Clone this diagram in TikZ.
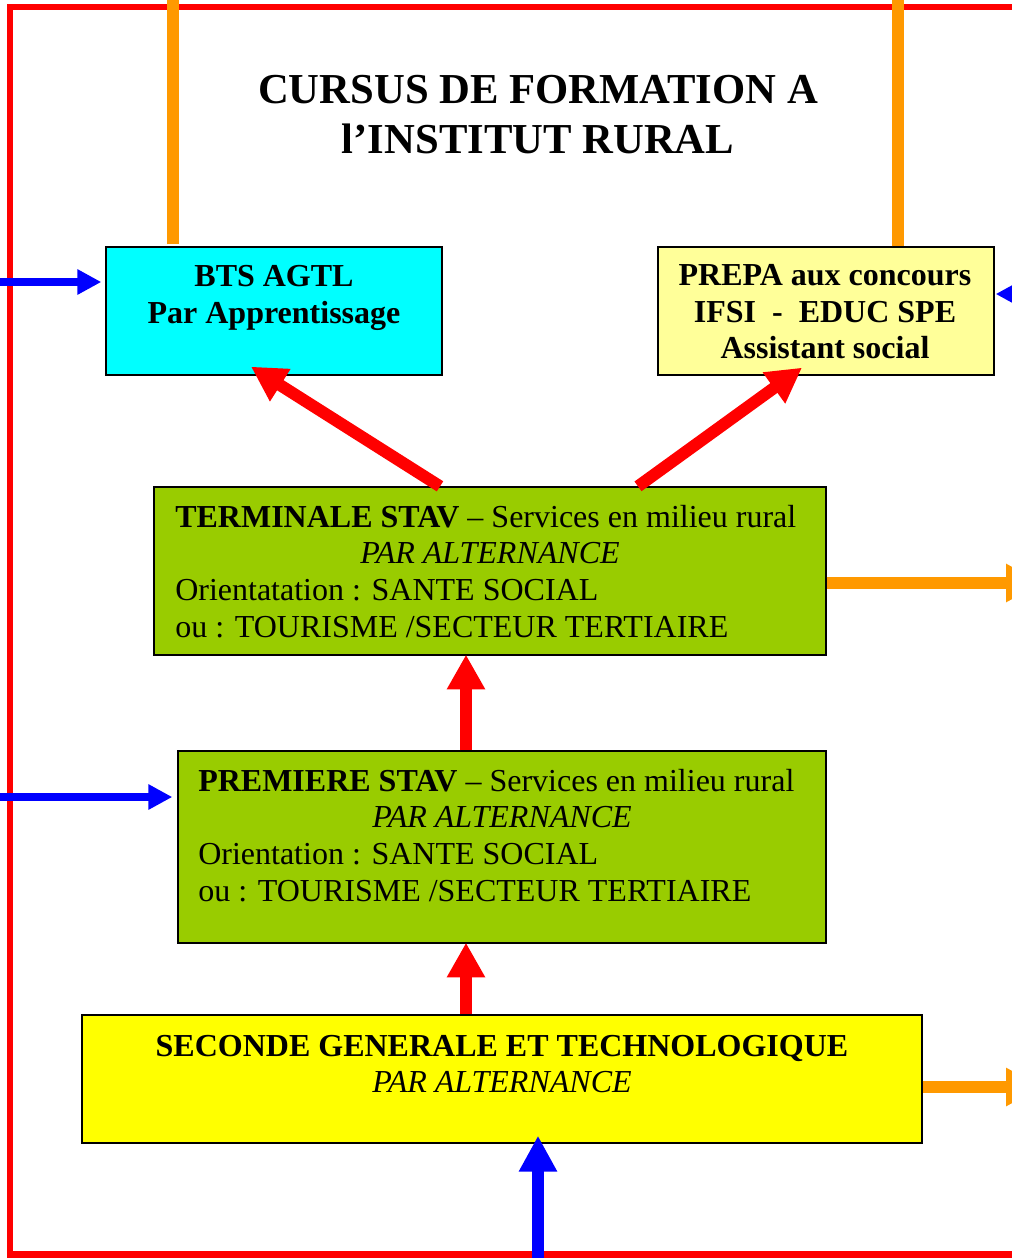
\documentclass[tikz,border=0pt]{standalone}
\usepackage{fontspec}
\setmainfont{Liberation Serif}
\usetikzlibrary{arrows.meta,calc}
\definecolor{frRed}{HTML}{FF0000}
\definecolor{frBlue}{HTML}{0000FF}
\definecolor{frOrange}{HTML}{FF9900}
\definecolor{boxCyan}{HTML}{00FFFF}
\definecolor{boxPale}{HTML}{FFFF99}
\definecolor{boxGreen}{HTML}{99CC00}
\definecolor{boxYellow}{HTML}{FFFF00}
\begin{document}
\begin{tikzpicture}[x=0.75pt,y=-0.75pt,
  box/.style={draw=black,line width=1pt,rectangle,inner sep=0pt},
  txt/.style={inner sep=0pt,font=\fontsize{24}{28}\selectfont},
  txtb/.style={inner sep=0pt,font=\fontsize{24}{28}\selectfont\bfseries},
  ttl/.style={inner sep=0pt,font=\fontsize{32}{37}\selectfont\bfseries},
  redarr/.style={draw=frRed,line width=9pt,-{Triangle[length=26pt,width=27pt]}},
  bluearr/.style={draw=frBlue,line width=6.4pt,-{Triangle[length=18pt,width=18pt]}},
  bluebig/.style={draw=frBlue,line width=9pt,-{Triangle[length=27pt,width=27pt]}},
  orangeline/.style={draw=frOrange,line width=8.6pt},
  orangearr/.style={draw=frOrange,line width=9pt,-{Triangle[length=27pt,width=27pt]}},
  frame/.style={draw=frRed,line width=5pt}
]
\useasboundingbox (0,0) rectangle (1012,1258);
\clip (0,0) rectangle (1012,1258);

% red frame
\draw[frame] (10,1275) -- (10,7) -- (1030,7);
\draw[frame] (7,1254.5) -- (1030,1254.5);

% boxes
\node[box,fill=boxCyan,minimum width=252pt,minimum height=96pt] (bts) at (274,311) {};
\node[box,fill=boxPale,minimum width=252pt,minimum height=96pt] (prepa) at (826,311) {};
\node[box,fill=boxGreen,minimum width=504pt,minimum height=126pt] (term) at (490,571) {};
\node[box,fill=boxGreen,minimum width=486pt,minimum height=144pt] (prem) at (502,847) {};
\node[box,fill=boxYellow,minimum width=630pt,minimum height=96pt] (sec) at (502,1079) {};

% title
\node[ttl,anchor=base] (title1) at (538,103) {CURSUS DE FORMATION A};
\node[ttl,anchor=base] (title2) at (538,153) {l’INSTITUT RURAL};

% BTS
\node[txtb,anchor=base] (bts1) at (274,286) {BTS AGTL};
\node[txtb,anchor=base] (bts2) at (274,323) {Par Apprentissage};

% PREPA
\node[txtb,anchor=base] (pre1) at (825,285) {PREPA aux concours};
\node[txtb,anchor=base] (pre2) at (825,322) {IFSI\ \ -\ \ EDUC SPE};
\node[txtb,anchor=base] (pre3) at (825,358) {Assistant social};

% Terminale
\node[txt,anchor=base west] (ter1) at (175,527) {\textbf{TERMINALE STAV} – Services en milieu rural};
\node[txt,anchor=base] (ter2) at (490,563) {\itshape PAR ALTERNANCE};
\node[txt,anchor=base west] (ter3) at (175,600) {Orientatation : SANTE SOCIAL};
\node[txt,anchor=base west] (ter4) at (175,637) {ou : TOURISME /SECTEUR TERTIAIRE};

% Premiere
\node[txt,anchor=base west] (pr1) at (198,791) {\textbf{PREMIERE STAV} – Services en milieu rural};
\node[txt,anchor=base] (pr2) at (502,827) {\itshape PAR ALTERNANCE};
\node[txt,anchor=base west] (pr3) at (198,864) {Orientation : SANTE SOCIAL};
\node[txt,anchor=base west] (pr4) at (198,901) {ou : TOURISME /SECTEUR TERTIAIRE};

% Seconde
\node[txtb,anchor=base] (se1) at (502,1056) {SECONDE GENERALE ET TECHNOLOGIQUE};
\node[txt,anchor=base] (se2) at (502,1092) {\itshape PAR ALTERNANCE};

% red arrows
\draw[redarr] ($(term.north)+(-50,0)$) -- ($(bts.south)+(-23,-9)$);
\draw[redarr] ($(term.north)+(148,0)$) -- ($(prepa.south)+(-24,-8)$);
\draw[redarr] ($(prem.north)+(-36,0)$) -- ($(term.south)+(-24,-1)$);
\draw[redarr] ($(sec.north)+(-36,0)$) -- ($(prem.south)+(-36,-1)$);

% orange
\coordinate (outA) at (173,-10);
\coordinate (outB) at (898,-10);
\coordinate (outC) at (1042,583);
\coordinate (outD) at (1042,1087);
\draw[orangeline] ($(bts.north)+(-101,-2)$) -- (outA);
\draw[orangeline] ($(prepa.north)+(72,0)$) -- (outB);
\draw[orangearr] ($(term.east)+(0,12)$) -- (outC);
\draw[orangearr] ($(sec.east)+(0,8)$) -- (outD);

% blue
\coordinate (inA) at (-10,282);
\coordinate (inB) at (1030,294);
\coordinate (inC) at (-10,797);
\coordinate (inD) at (538,1275);
\draw[bluearr] (inA) -- ($(bts.west)+(-4,-29)$);
\draw[bluearr] (inB) -- ($(prepa.east)+(1,-17)$);
\draw[bluearr] (inC) -- ($(prem.west)+(-5,-50)$);
\draw[bluebig] (inD) -- ($(sec.south)+(36,-8)$);
\end{tikzpicture}
\end{document}
